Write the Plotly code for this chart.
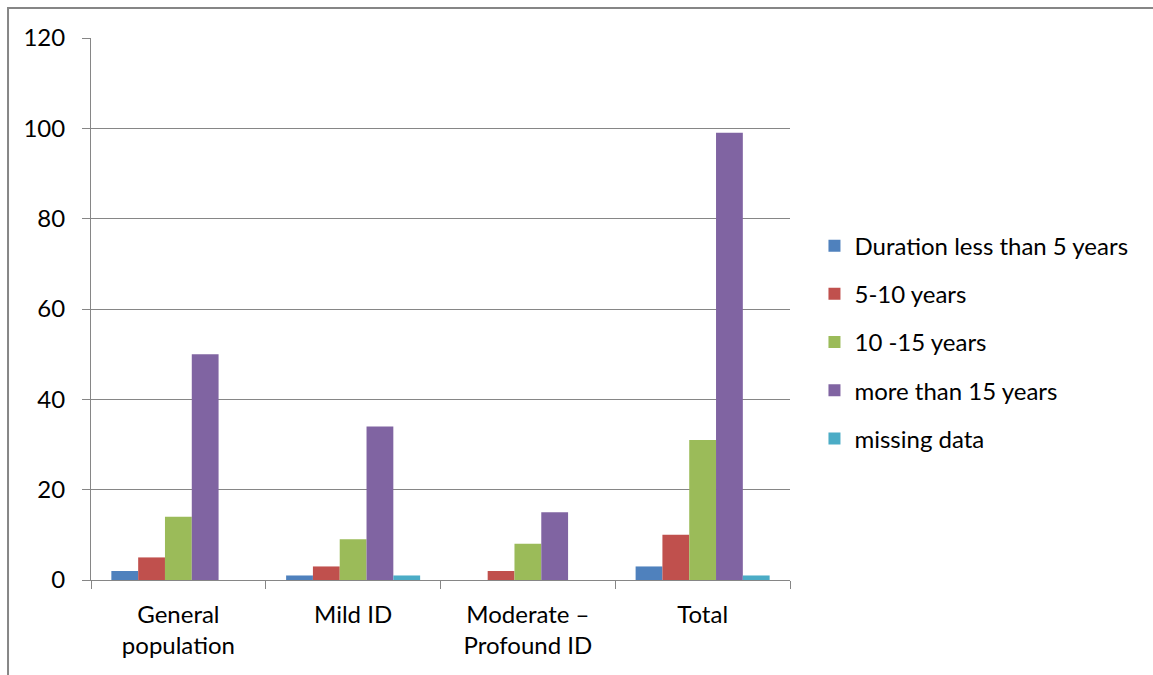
import plotly.graph_objects as go

categories = ["General<br>population", "Mild ID", "Moderate –<br>Profound ID", "Total"]
series_names = [
    "Duration less than 5 years",
    "5-10 years",
    "10 -15 years",
    "more than 15 years",
    "missing data",
]
less_than_5 = [2, 1, 0, 3]
five_to_10 = [5, 3, 2, 10]
ten_to_15 = [14, 9, 8, 31]
more_than_15 = [50, 34, 15, 99]
missing = [0, 1, 0, 1]
y_ticks = [0, 20, 40, 60, 80, 100, 120]

series_values = [less_than_5, five_to_10, ten_to_15, more_than_15, missing]
colors = ["#4F81BD", "#C0504D", "#9BBB59", "#8064A2", "#4BACC6"]

FONT = "Lato, Calibri, Carlito, sans-serif"
GRAY = "#868686"
FS = 24

fig = go.Figure()
for i, (name, vals, col) in enumerate(zip(series_names, series_values, colors)):
    fig.add_trace(go.Bar(
        x=categories, y=vals, name=name,
        marker=dict(color=col, line=dict(width=0)),
        legendgroup=f"g{i}",
    ))

fig.update_layout(
    width=1153, height=675,
    margin=dict(l=91, r=363, t=38, b=95),
    paper_bgcolor="white", plot_bgcolor="white",
    barmode="group", bargap=0.233, bargroupgap=0,
    font=dict(family=FONT, size=FS, color="black"),
    showlegend=True,
    legend=dict(
        x=1.035, y=0.439, xanchor="left", yanchor="middle",
        font=dict(family=FONT, size=FS, color="black"),
        traceorder="grouped", tracegroupgap=14,
        itemwidth=30, bgcolor="rgba(0,0,0,0)",
    ),
    xaxis=dict(
        showline=True, linecolor=GRAY, linewidth=1,
        ticks="outside", ticklen=8, tickcolor=GRAY, tickwidth=1,
        tickson="boundaries", showgrid=False, ticklabelstandoff=13,
        tickfont=dict(family=FONT, size=FS, color="black"),
    ),
    yaxis=dict(
        range=[0, 120], tickvals=y_ticks,
        showline=True, linecolor=GRAY, linewidth=1,
        ticks="outside", ticklen=8, tickcolor=GRAY, tickwidth=1,
        showgrid=True, gridcolor=GRAY, gridwidth=1,
        zeroline=False, ticklabelstandoff=12,
        tickfont=dict(family=FONT, size=FS, color="black"),
    ),
)

# Outer chart frame, partly running past the page edge
fig.add_shape(
    type="rect", xref="paper", yref="paper",
    x0=-0.1187, y0=-0.2, x1=1.6, y1=1.0554,
    line=dict(color=GRAY, width=2), fillcolor="rgba(0,0,0,0)", layer="below",
)

fig.write_html("out.html")
